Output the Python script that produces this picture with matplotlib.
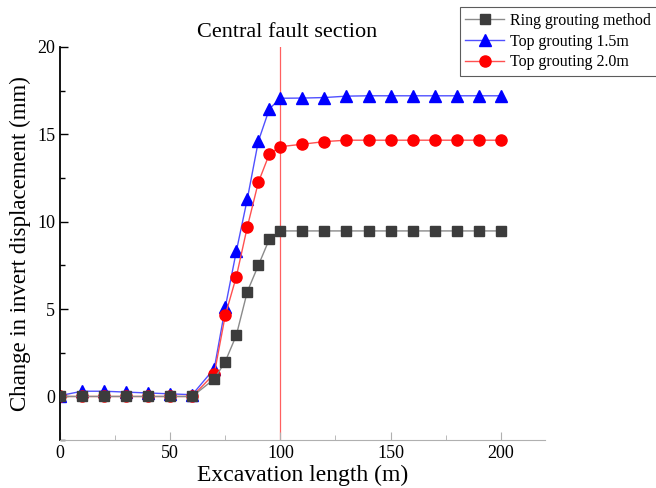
# -*- coding: utf-8 -*-

import matplotlib.pyplot as plt
from matplotlib.ticker import MultipleLocator

plt.rcParams["font.family"] = ["Liberation Serif", "DejaVu Serif"]

# ------------------------------------------------------------
x = [0, 10, 20, 30, 40, 50, 60, 70, 75, 80, 85, 90, 95, 100,
     110, 120, 130, 140, 150, 160, 170, 180, 190, 200]

ring = [0, 0, 0, 0, 0, 0, 0, 1.0, 2.0, 3.5, 6.0, 7.5, 9.0, 9.47,
        9.47, 9.47, 9.47, 9.47, 9.47, 9.47, 9.47, 9.47, 9.47, 9.47]
top15 = [0.05, 0.3, 0.3, 0.25, 0.2, 0.15, 0.1, 1.6, 5.1, 8.3, 11.3, 14.6, 16.45, 17.06,
         17.07, 17.1, 17.18, 17.2, 17.2, 17.2, 17.2, 17.2, 17.2, 17.2]
top20 = [0, 0, 0, 0, 0, 0, 0, 1.3, 4.65, 6.85, 9.7, 12.25, 13.87, 14.29,
         14.43, 14.58, 14.66, 14.66, 14.66, 14.66, 14.66, 14.66, 14.66, 14.66]

fault_x = 100


# ------------------------------------------------------------
fig = plt.figure(figsize=(6.56, 4.88), dpi=100)
ax = fig.add_axes([0.0915, 0.098, 0.739, 0.806])

ax.axvline(fault_x, color="#ff6060", lw=0.9, zorder=1)

ax.plot(x, ring, "-s", color="#8a8a8a", mfc="#3c3c3c", mec="#3c3c3c",
        ms=7, lw=1.0, label="Ring grouting method", zorder=3)
ax.plot(x, top15, "-^", color="#5050ff", mfc="#0000ff", mec="#0000ff",
        ms=8, lw=1.0, label="Top grouting 1.5m", zorder=2)
ax.plot(x, top20, "-o", color="#ff5050", mfc="#ff0000", mec="#ff0000",
        ms=8, lw=1.0, label="Top grouting 2.0m", zorder=2)

ax.set_xlim(0, 220)
ax.set_ylim(-2.5, 20)
ax.xaxis.set_major_locator(MultipleLocator(50))
ax.xaxis.set_minor_locator(MultipleLocator(25))
ax.yaxis.set_major_locator(MultipleLocator(5))
ax.yaxis.set_minor_locator(MultipleLocator(2.5))

ax.spines["top"].set_visible(False)
ax.spines["right"].set_visible(False)
ax.spines["left"].set_linewidth(1.3)
ax.spines["bottom"].set_color("#b0b0b0")
ax.tick_params(axis="both", which="both", direction="in", labelsize=13)
ax.tick_params(axis="y", which="major", length=6, width=1.0)
ax.tick_params(axis="y", which="minor", length=3.5, width=1.0)
ax.tick_params(axis="x", which="major", length=6, color="#b0b0b0")
ax.tick_params(axis="x", which="minor", length=3.5, color="#b0b0b0")

ax.set_xlabel("Excavation length (m)", fontsize=17, labelpad=2)
ax.set_ylabel("Change in invert displacement (mm)", fontsize=16.5, labelpad=4)
ax.text(0.468, 1.012, "Central fault section", transform=ax.transAxes,
        ha="center", va="bottom", fontsize=16)

leg = fig.legend(loc="upper left", bbox_to_anchor=(0.701, 0.985),
                 fontsize=11.5, frameon=True, fancybox=False,
                 edgecolor="#333333", handlelength=2.4, handletextpad=0.4,
                 borderpad=0.35, labelspacing=0.3, borderaxespad=0)
leg.get_frame().set_linewidth(0.8)

plt.savefig("out.png", dpi=100)
